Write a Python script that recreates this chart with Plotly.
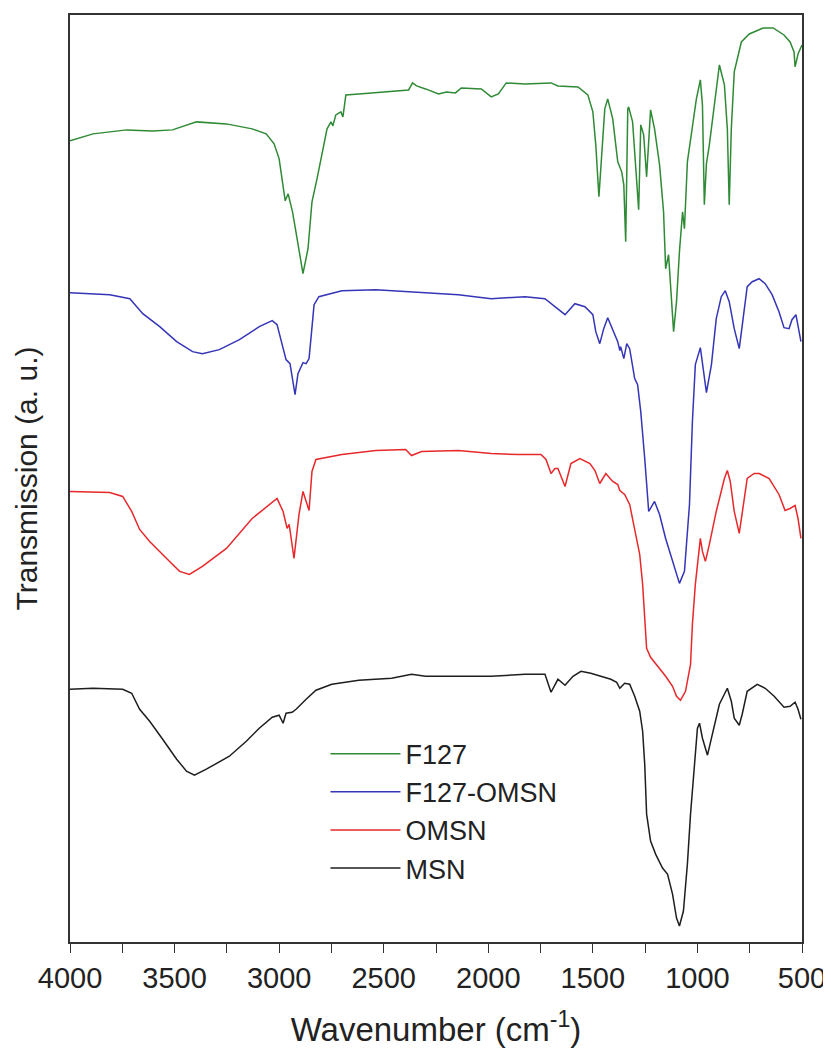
import plotly.graph_objects as go

# ---- data (transmission in arbitrary units, stacked/offset as in the figure) ----
wn_f127 = [4000, 3890, 3729, 3605, 3510, 3395, 3252, 3129, 3062, 3024, 3000, 2981, 2971, 2957, 2936,
           2914, 2886, 2862, 2843, 2819, 2795, 2771, 2752, 2743, 2729, 2705, 2695, 2681, 2619, 2557,
           2381, 2362, 2343, 2300, 2238, 2200, 2157, 2129, 2033, 1986, 1952, 1914, 1824, 1700, 1667,
           1571, 1524, 1500, 1486, 1471, 1457, 1443, 1429, 1405, 1381, 1362, 1352, 1343, 1333, 1329,
           1310, 1295, 1281, 1271, 1257, 1243, 1224, 1205, 1181, 1162, 1152, 1138, 1129, 1114, 1100,
           1086, 1071, 1062, 1048, 1024, 1005, 986, 976, 967, 957, 943, 919, 895, 871, 857, 848, 838,
           824, 790, 752, 686, 638, 586, 557, 538, 533, 519, 500]
t_f127 = [80.2, 80.9, 81.3, 81.2, 81.3, 82.1, 81.9, 81.4, 80.9, 79.9, 78.4, 75.4, 74.2, 74.9, 73.1,
          70.4, 66.9, 69.4, 74.1, 76.4, 79.1, 81.4, 82.1, 81.7, 82.8, 83.1, 82.6, 84.8, 84.9, 85.0,
          85.3, 86.0, 85.7, 85.4, 84.9, 85.1, 85.0, 85.5, 85.4, 84.6, 84.9, 86.0, 85.9, 86.0, 85.7,
          85.6, 84.8, 83.1, 79.8, 74.6, 78.8, 83.4, 84.4, 82.4, 78.1, 77.1, 75.8, 70.1, 83.4, 83.6,
          82.1, 77.4, 73.3, 81.8, 80.8, 76.6, 83.3, 81.4, 77.8, 73.1, 67.4, 68.8, 65.8, 61.1, 64.1,
          69.1, 73.1, 71.4, 78.1, 81.8, 84.4, 86.3, 83.8, 73.8, 77.9, 79.8, 84.1, 87.8, 85.8, 81.4, 73.8, 81.4,
          87.1, 90.1, 90.9, 91.5, 91.5, 90.8, 90.1, 89.1, 87.6, 88.9, 89.8]

wn_f127_omsn = [4000, 3810, 3714, 3652, 3571, 3490, 3414, 3367, 3286, 3190, 3095, 3033, 3010, 2986, 2967,
                2948, 2924, 2910, 2886, 2871, 2857, 2848, 2833, 2810, 2700, 2538, 2300, 2143, 1986, 1824,
                1729, 1667, 1633, 1586, 1538, 1500, 1486, 1467, 1448, 1429, 1405, 1381, 1371, 1367, 1352,
                1338, 1324, 1300, 1286, 1271, 1252, 1233, 1205, 1181, 1152, 1119, 1086, 1062, 1038, 1024,
                1010, 986, 976, 957, 933, 910, 886, 867, 848, 824, 800, 786, 762, 738, 705, 676, 643, 610,
                586, 562, 548, 529, 519, 505]
t_f127_omsn = [65.0, 64.8, 64.4, 62.9, 61.6, 60.1, 59.1, 58.9, 59.3, 60.3, 61.6, 62.2, 61.8, 59.8, 58.3,
               57.9, 54.8, 56.9, 58.0, 57.9, 58.4, 60.4, 63.8, 64.6, 65.2, 65.3, 65.0, 64.8, 64.4, 64.6,
               64.4, 63.4, 62.8, 63.9, 63.6, 62.8, 61.1, 59.9, 61.4, 62.5, 61.3, 60.1, 59.2, 59.6, 58.4,
               59.9, 59.4, 56.4, 55.8, 53.1, 48.4, 43.1, 44.1, 42.8, 40.4, 38.1, 35.9, 37.1, 43.8, 52.1,
               57.8, 59.5, 58.1, 55.0, 57.8, 62.4, 64.6, 65.2, 64.1, 61.4, 59.4, 61.8, 65.6, 66.1, 66.4, 65.9, 64.8, 63.1,
               61.5, 61.4, 62.3, 62.8, 61.6, 60.1]

wn_omsn = [4000, 3810, 3748, 3705, 3667, 3619, 3538, 3476, 3429, 3367, 3252, 3129, 3010, 2981, 2962,
           2952, 2929, 2905, 2886, 2871, 2857, 2843, 2824, 2700, 2538, 2395, 2367, 2319, 2143, 1986,
           1857, 1748, 1724, 1700, 1681, 1667, 1633, 1605, 1562, 1514, 1490, 1467, 1438, 1405, 1381,
           1371, 1348, 1324, 1300, 1276, 1262, 1252, 1243, 1224, 1190, 1152, 1119, 1100, 1081, 1057,
           1033, 1024, 1010, 990, 986, 976, 962, 943, 910, 871, 857, 843, 824, 800, 786, 762, 729, 705,
           657, 610, 581, 557, 533, 519, 505]
t_omsn = [45.1, 45.0, 44.6, 43.1, 41.3, 40.1, 38.4, 37.1, 36.8, 37.6, 39.4, 42.4, 44.4, 43.1, 41.4,
          41.8, 38.4, 42.8, 45.1, 44.1, 43.2, 47.1, 48.3, 48.8, 49.2, 49.3, 48.7, 49.1, 49.2, 48.9,
          48.8, 48.8, 48.3, 46.9, 47.4, 47.4, 45.6, 47.9, 48.4, 47.9, 47.2, 45.9, 46.9, 46.1, 45.8,
          45.2, 44.8, 43.8, 41.4, 38.8, 35.8, 32.8, 29.4, 28.5, 27.6, 26.6, 25.6, 24.6, 24.2, 25.1,
          27.8, 31.8, 35.8, 39.8, 40.4, 39.1, 38.1, 39.8, 43.1, 46.4, 47.2, 46.1, 43.1, 40.9, 42.8, 46.4, 46.9, 46.9,
          46.4, 44.8, 43.2, 43.4, 43.7, 42.4, 40.4]

wn_msn = [4000, 3890, 3748, 3705, 3667, 3619, 3557, 3490, 3443, 3405, 3348, 3238, 3157, 3095, 3033,
          3000, 2981, 2967, 2938, 2919, 2871, 2824, 2748, 2619, 2462, 2367, 2300, 1986, 1824, 1729,
          1700, 1681, 1667, 1633, 1595, 1557, 1510, 1462, 1414, 1386, 1371, 1348, 1324, 1300, 1276,
          1262, 1252, 1243, 1224, 1200, 1167, 1143, 1119, 1100, 1086, 1067, 1048, 1033, 1014, 1000,
          990, 976, 952, 924, 895, 857, 838, 824, 800, 786, 762, 714, 676, 633, 586, 557, 533, 519, 505]
t_msn = [25.3, 25.4, 25.3, 24.9, 23.3, 22.1, 20.3, 18.3, 17.1, 16.7, 17.3, 18.6, 20.1, 21.4, 22.5,
         22.7, 21.9, 22.9, 23.0, 23.3, 24.3, 25.2, 25.8, 26.2, 26.4, 26.8, 26.6, 26.6, 26.8, 26.8,
         25.0, 25.8, 26.3, 25.7, 26.6, 27.1, 26.9, 26.6, 26.3, 26.0, 25.4, 25.9, 25.8, 24.6, 23.1,
         21.1, 17.8, 12.8, 10.1, 8.8, 7.4, 6.8, 4.8, 2.4, 1.6, 3.1, 7.8, 12.8, 17.8, 21.4,
         21.9, 20.4, 18.7, 21.1, 23.8, 25.4, 24.1, 22.4, 21.7, 22.8, 25.1, 25.8, 25.4, 24.6, 23.5, 23.6, 24.0, 23.3, 22.3]

series_names = ["F127", "F127-OMSN", "OMSN", "MSN"]
x_tick_vals = [4000, 3500, 3000, 2500, 2000, 1500, 1000, 500]

FONT = "Liberation Sans, Arial, sans-serif"
colors = ["#2f8a35", "#3535b8", "#e8282b", "#1e1e1e"]
xs = [wn_f127, wn_f127_omsn, wn_omsn, wn_msn]
ys = [t_f127, t_f127_omsn, t_omsn, t_msn]

fig = go.Figure()
for name, x, y, c in zip(series_names, xs, ys, colors):
    fig.add_trace(go.Scatter(x=x, y=y, mode="lines", name=name,
                             line=dict(color=c, width=1.5)))

# page body has an 8px margin, so the figure is slightly smaller and shifted
fig.update_layout(
    width=823, height=1040,
    margin=dict(l=62, r=26, t=5, b=99),
    paper_bgcolor="white", plot_bgcolor="white",
    font=dict(family=FONT, color="#222222"),
    showlegend=True,
    legend=dict(x=0.349, y=0.229, xanchor="left", yanchor="top",
                bgcolor="rgba(0,0,0,0)", borderwidth=0, itemwidth=70,
                font=dict(family=FONT, size=27, color="#222222"),
                tracegroupgap=0),
)
fig.update_xaxes(
    range=[4000, 500], tickvals=x_tick_vals, ticktext=[str(v) for v in x_tick_vals],
    ticks="outside", ticklen=9, tickwidth=1.2, tickcolor="#333333",
    ticklabeloverflow="allow",
    minor=dict(dtick=250, tick0=0, ticks="outside", ticklen=9, tickwidth=1.2, tickcolor="#333333"),
    showline=True, linecolor="#333333", linewidth=1.5, mirror=True,
    showgrid=False, zeroline=False,
    tickfont=dict(family=FONT, size=29, color="#222222"),
    title=dict(text="Wavenumber (cm<sup>-1</sup>)", font=dict(family=FONT, size=33, color="#222222"),
               standoff=26),
)
fig.update_yaxes(
    range=[0, 92.8], showticklabels=False, ticks="",
    showline=True, linecolor="#333333", linewidth=1.5, mirror=True,
    showgrid=False, zeroline=False,
    title=dict(text="Transmission (a. u.)", font=dict(family=FONT, size=30, color="#222222"),
               standoff=22),
)

fig.write_html("out.html")
